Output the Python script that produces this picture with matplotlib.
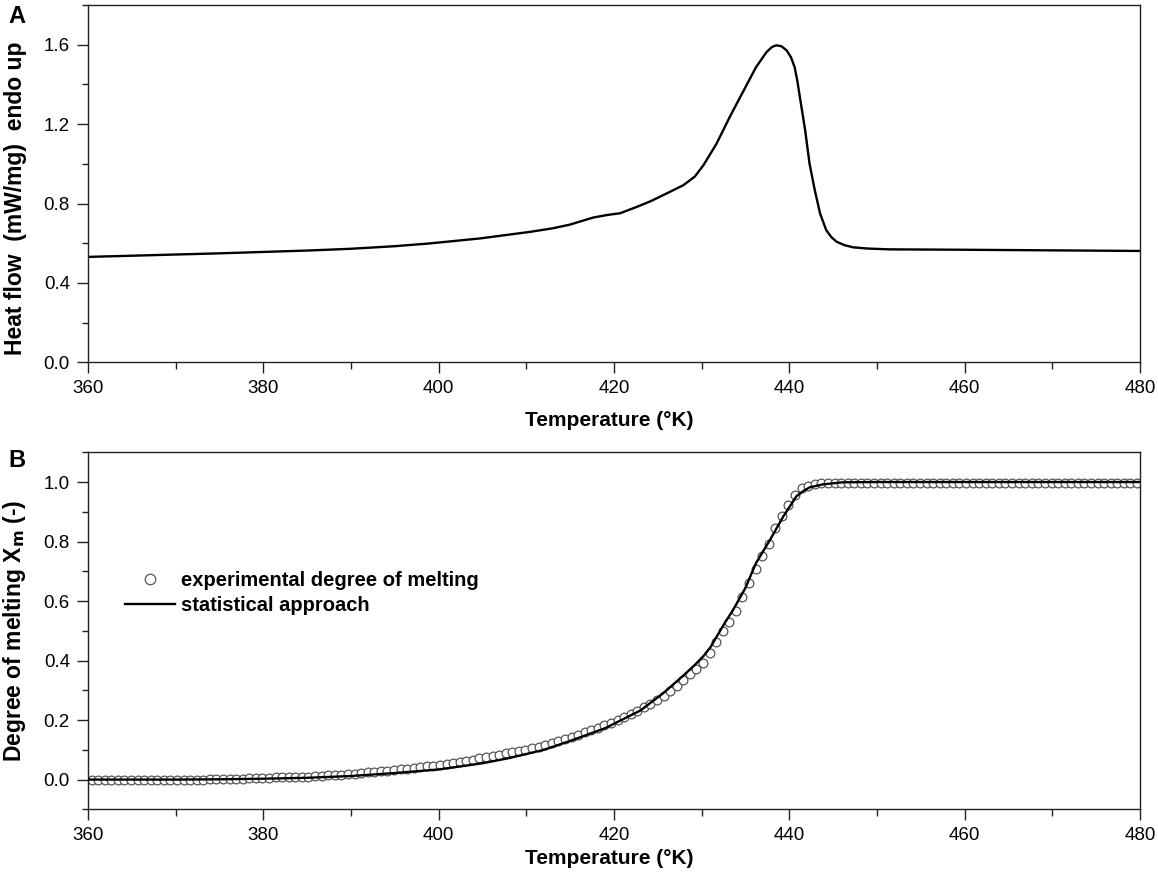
import matplotlib
matplotlib.use("Agg")
import matplotlib.pyplot as plt
from matplotlib.ticker import MultipleLocator, FormatStrFormatter

plt.rcParams['font.family'] = ['Liberation Sans', 'DejaVu Sans']

# panel A: DSC heat flow curve
temp_dsc = [360, 365, 370, 375, 380, 385, 390, 395, 399, 404.7, 410.4, 413, 415,
            417.6, 419.2, 420.7, 422.6, 424.2, 425.6, 427.9, 429.2, 430.2, 431.7,
            433.2, 434.7, 436.2, 437.4, 438.0, 438.5, 439.1, 439.7, 440.2, 440.6,
            440.9, 441.2, 441.8, 442.3, 442.9, 443.5, 444.2, 444.8, 445.4, 446.3,
            447.3, 449, 451.4, 460, 470, 480]
heat_flow = [0.531, 0.537, 0.543, 0.549, 0.556, 0.563, 0.572, 0.585, 0.599, 0.624,
             0.657, 0.675, 0.694, 0.729, 0.742, 0.751, 0.783, 0.812, 0.842, 0.892,
             0.935, 0.993, 1.102, 1.236, 1.362, 1.487, 1.563, 1.588, 1.597, 1.592,
             1.571, 1.535, 1.487, 1.420, 1.336, 1.169, 1.001, 0.867, 0.750, 0.666,
             0.630, 0.607, 0.590, 0.579, 0.573, 0.569, 0.567, 0.564, 0.561]

# panel B: experimental degree of melting (circles)
temp_exp = [360.40, 361.15, 361.90, 362.65, 363.40, 364.15, 364.90, 365.65, 366.40, 367.15,
            367.90, 368.65, 369.40, 370.15, 370.90, 371.65, 372.40, 373.15, 373.90, 374.65,
            375.40, 376.15, 376.90, 377.65, 378.40, 379.15, 379.90, 380.65, 381.40, 382.15,
            382.90, 383.65, 384.40, 385.15, 385.90, 386.65, 387.40, 388.15, 388.90, 389.65,
            390.40, 391.15, 391.90, 392.65, 393.40, 394.15, 394.90, 395.65, 396.40, 397.15,
            397.90, 398.65, 399.40, 400.15, 400.90, 401.65, 402.40, 403.15, 403.90, 404.65,
            405.40, 406.15, 406.90, 407.65, 408.40, 409.15, 409.90, 410.65, 411.40, 412.15,
            412.90, 413.65, 414.40, 415.15, 415.90, 416.65, 417.40, 418.15, 418.90, 419.65,
            420.40, 421.15, 421.90, 422.65, 423.40, 424.15, 424.90, 425.65, 426.40, 427.15,
            427.90, 428.65, 429.40, 430.15, 430.90, 431.65, 432.40, 433.15, 433.90, 434.65,
            435.40, 436.15, 436.90, 437.65, 438.40, 439.15, 439.90, 440.65, 441.40, 442.15,
            442.90, 443.65, 444.40, 445.15, 445.90, 446.65, 447.40, 448.15, 448.90, 449.65,
            450.40, 451.15, 451.90, 452.65, 453.40, 454.15, 454.90, 455.65, 456.40, 457.15,
            457.90, 458.65, 459.40, 460.15, 460.90, 461.65, 462.40, 463.15, 463.90, 464.65,
            465.40, 466.15, 466.90, 467.65, 468.40, 469.15, 469.90, 470.65, 471.40, 472.15,
            472.90, 473.65, 474.40, 475.15, 475.90, 476.65, 477.40, 478.15, 478.90, 479.65]
xm_exp = [-0.003, -0.003, -0.003, -0.003, -0.003, -0.003, -0.003, -0.002, -0.002, -0.002,
          -0.002, -0.002, -0.002, -0.001, -0.001, -0.001, 0.000, 0.000, 0.001, 0.001,
          0.002, 0.002, 0.003, 0.003, 0.004, 0.005, 0.005, 0.006, 0.007, 0.007,
          0.008, 0.009, 0.010, 0.010, 0.012, 0.013, 0.014, 0.016, 0.017, 0.019,
          0.020, 0.022, 0.024, 0.026, 0.028, 0.030, 0.032, 0.034, 0.036, 0.038,
          0.041, 0.044, 0.047, 0.050, 0.053, 0.056, 0.060, 0.064, 0.067, 0.071,
          0.075, 0.079, 0.084, 0.088, 0.092, 0.097, 0.101, 0.106, 0.111, 0.116,
          0.122, 0.129, 0.136, 0.143, 0.151, 0.159, 0.167, 0.175, 0.183, 0.191,
          0.201, 0.211, 0.221, 0.232, 0.243, 0.255, 0.267, 0.281, 0.297, 0.315,
          0.336, 0.354, 0.372, 0.391, 0.424, 0.462, 0.500, 0.530, 0.568, 0.613,
          0.660, 0.708, 0.751, 0.793, 0.845, 0.886, 0.924, 0.958, 0.979, 0.988,
          0.993, 0.996, 0.997, 0.998, 0.998, 0.998, 0.998, 0.998, 0.998, 0.998,
          0.998, 0.998, 0.998, 0.998, 0.998, 0.998, 0.998, 0.998, 0.998, 0.998,
          0.998, 0.998, 0.998, 0.998, 0.998, 0.998, 0.998, 0.998, 0.998, 0.998,
          0.998, 0.998, 0.998, 0.998, 0.998, 0.998, 0.998, 0.998, 0.998, 0.998,
          0.998, 0.998, 0.998, 0.998, 0.998, 0.998, 0.998, 0.998, 0.998, 0.998]

# panel B: statistical approach (line)
temp_fit = [360, 370, 375, 380, 385, 390, 395, 400, 405, 408, 412, 415, 419, 423,
            425.6, 428, 429.2, 430.2, 431.0, 431.8, 432.6, 433.6, 435, 436.2, 437.8,
            439.3, 440.8, 441.6, 442.3, 443.8, 446, 450, 480]
xm_fit = [0.0, 0.0, 0.001, 0.003, 0.006, 0.012, 0.022, 0.034, 0.055, 0.072, 0.100,
          0.130, 0.173, 0.232, 0.290, 0.352, 0.385, 0.415, 0.445, 0.485, 0.525,
          0.571, 0.645, 0.728, 0.806, 0.884, 0.952, 0.970, 0.982, 0.992, 0.999,
          1.0, 1.0]

fig = plt.figure(figsize=(11.58, 8.76), dpi=100)
ax1 = fig.add_axes([0.076, 0.5864, 0.9085, 0.4079])
ax2 = fig.add_axes([0.076, 0.0761, 0.9085, 0.4076])

ax1.plot(temp_dsc, heat_flow, color='black', linewidth=1.7)
ax1.set_xlim(360, 480)
ax1.set_ylim(0, 1.8)
ax1.xaxis.set_major_locator(MultipleLocator(20))
ax1.xaxis.set_minor_locator(MultipleLocator(10))
ax1.yaxis.set_minor_locator(MultipleLocator(0.2))
ax1.set_yticks([0.0, 0.4, 0.8, 1.2, 1.6])
ax1.set_xlabel('Temperature (°K)', fontsize=15, fontweight='bold')
ax1.set_ylabel('Heat flow  (mW/mg)  endo up', fontsize=16.5, fontweight='bold')
ax1.xaxis.set_label_coords(0.495, -0.135)
ax1.yaxis.set_label_coords(-0.058, 0.46)

ax2.plot(temp_exp, xm_exp, linestyle='none', marker='o', markersize=6.3,
         markerfacecolor='white', markeredgecolor='#555555', markeredgewidth=0.9,
         label='experimental degree of melting', zorder=2)
ax2.plot(temp_fit, xm_fit, color='black', linewidth=1.7,
         label='statistical approach', zorder=3)
ax2.set_xlim(360, 480)
ax2.set_ylim(-0.1, 1.1)
ax2.xaxis.set_major_locator(MultipleLocator(20))
ax2.xaxis.set_minor_locator(MultipleLocator(10))
ax2.yaxis.set_minor_locator(MultipleLocator(0.1))
ax2.set_yticks([0.0, 0.2, 0.4, 0.6, 0.8, 1.0])
ax2.set_xlabel('Temperature (°K)', fontsize=15, fontweight='bold')
ax2.set_ylabel('Degree of melting X$_\\mathbf{m}$ (-)', fontsize=16.5, fontweight='bold')
ax2.xaxis.set_label_coords(0.495, -0.11)
ax2.yaxis.set_label_coords(-0.057, 0.50)

leg = ax2.legend(loc='center left', bbox_to_anchor=(0.026, 0.606), frameon=False,
                 prop={'size': 14.5, 'weight': 'bold'}, borderpad=0,
                 handlelength=2.45, handletextpad=0.3, labelspacing=0.3,
                 markerscale=1.2)

for ax in (ax1, ax2):
    for s in ax.spines.values():
        s.set_linewidth(1.0)
        s.set_color('#222222')
    ax.tick_params(which='major', direction='out', length=8, width=1.0,
                   labelsize=13.5, pad=5, color='#222222')
    ax.tick_params(which='minor', direction='out', length=5, width=1.0, color='#222222')
    ax.tick_params(axis='y', which='minor', length=4.5)
    ax.yaxis.set_major_formatter(FormatStrFormatter('%.1f'))

fig.text(0.007, 0.994, 'A', fontsize=17, fontweight='bold', va='top', ha='left')
fig.text(0.007, 0.487, 'B', fontsize=17, fontweight='bold', va='top', ha='left')

fig.savefig('out.png', dpi=100)
